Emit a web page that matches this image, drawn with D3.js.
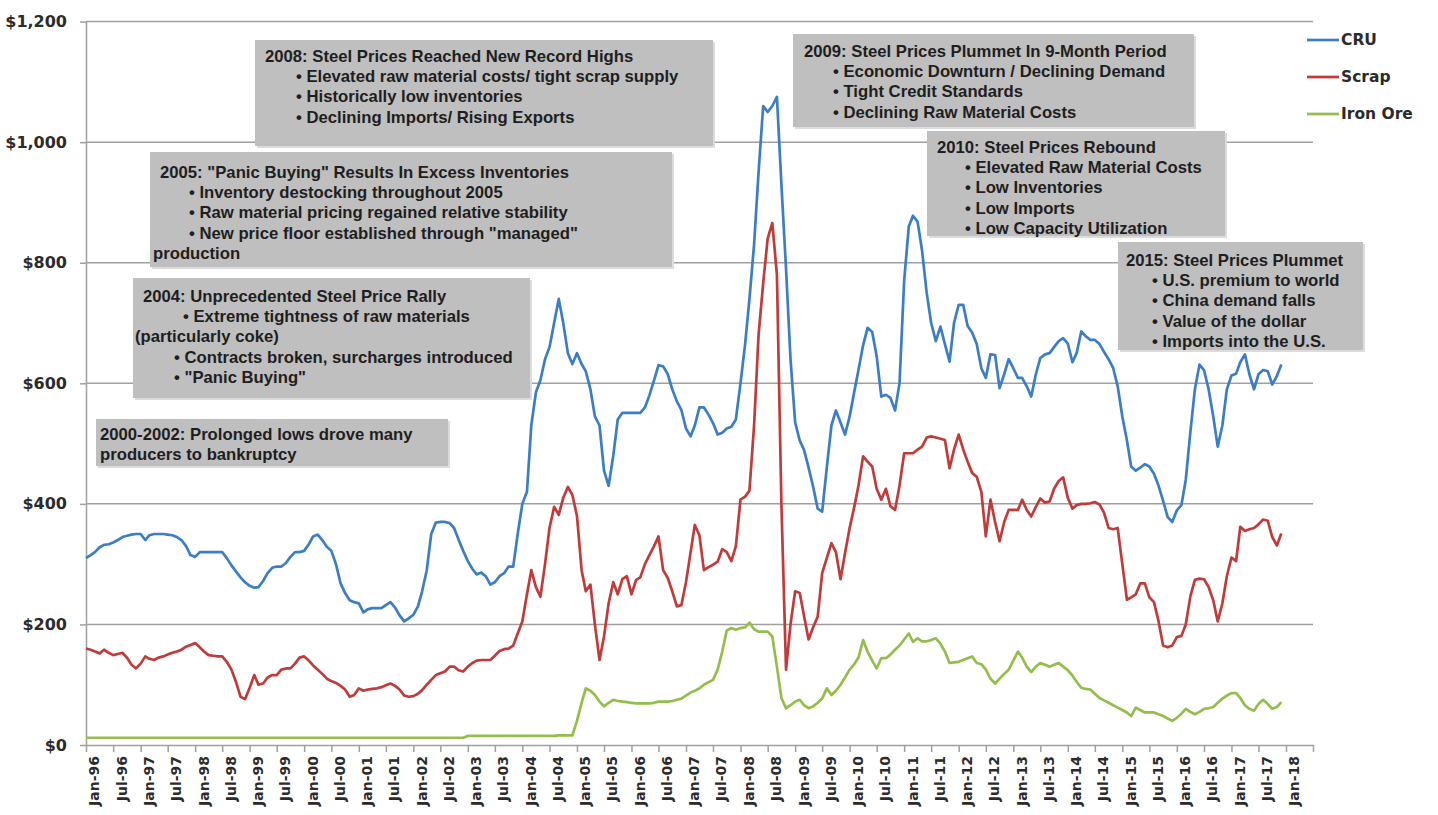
<!DOCTYPE html>
<html lang="en">
<head>
<meta charset="UTF-8">
<title>Steel prices</title>
<script src="https://cdn.jsdelivr.net/npm/d3@7/dist/d3.min.js"></script>
<style>
  body { margin: 0; background: #fff; }
  svg { display: block; }
</style>
</head>
<body>
<svg id="main_svg" width="1438" height="815"></svg>
<script>
// monthly prices, Jan-96 .. Dec-17
var startYear = 1996;
var cru = [
  310, 315, 320, 328, 332, 333, 336, 340, 345, 347, 349, 350,
  350, 340, 348, 350, 350, 350, 349, 348, 345, 340, 330, 315,
  312, 320, 320, 320, 320, 320, 320, 310, 298, 288, 278, 270,
  264, 261, 262, 272, 285, 294, 296, 296, 302, 312, 320, 320,
  322, 333, 346, 349, 340, 329, 322, 300, 268, 252, 240, 237,
  235, 220, 225, 227, 227, 227, 232, 237, 228, 215, 205, 210,
  216, 230, 255, 290, 350, 369, 370, 370, 368, 360, 340, 322,
  305, 292, 283, 286, 280, 266, 270, 280, 285, 296, 296, 350,
  400, 420, 530, 585, 605, 640, 660, 700, 740, 700, 650, 632,
  650, 632, 620, 590, 545, 530, 455, 430, 480, 540, 551, 551,
  551, 551, 551, 560, 580, 605, 630, 628, 615, 590, 570, 556,
  525, 512, 530, 560, 560, 548, 534, 515, 518, 525, 528, 540,
  600, 665, 740, 830, 950, 1060, 1050, 1060, 1075, 930, 790, 640,
  535, 505, 490, 460, 429, 392, 387, 460, 530, 555, 535, 515,
  545, 586, 622, 663, 692, 685, 645, 578, 581, 576, 555, 600,
  770, 860, 878, 868, 820, 750, 700, 670, 694, 665, 636, 700,
  730, 730, 695, 684, 665, 625, 609, 648, 647, 592, 615, 640,
  625, 609, 609, 595, 578, 615, 642, 648, 650, 660, 670, 675,
  666, 635, 650, 686, 678, 672, 672, 665, 652, 640, 625, 595,
  545, 505, 462, 455, 460, 466, 462, 450, 430, 405, 378, 370,
  389, 398, 440, 520, 590, 631, 622, 590, 545, 495, 530, 590,
  613, 616, 635, 648, 615, 590, 615, 622, 620, 598, 612, 631
];
var scrap = [
  160, 158, 155, 152, 158, 153, 149, 151, 153, 145, 133, 127,
  135, 147, 143, 141, 145, 147, 150, 153, 155, 158, 163, 166,
  169, 162, 155, 149, 148, 147, 147, 138, 125, 105, 80, 76,
  95, 116, 100, 102, 112, 116, 116, 125, 127, 127, 135, 145,
  147, 140, 132, 125, 118, 110, 106, 103, 98, 92, 80, 83,
  94, 90, 92, 93, 94, 96, 99, 102, 98, 92, 82, 80,
  81, 85, 91, 100, 108, 116, 119, 122, 130, 130, 124, 122,
  130, 136, 140, 141, 141, 141, 148, 156, 159, 160, 165, 185,
  205, 250, 290, 262, 246, 300, 360, 395, 382, 410, 428, 415,
  380, 290, 255, 266, 200, 141, 180, 235, 270, 250, 275, 280,
  250, 274, 278, 300, 315, 330, 346, 290, 277, 255, 230, 232,
  270, 320, 365, 348, 290, 295, 299, 304, 325, 320, 305, 330,
  407, 412, 422, 530, 680, 766, 840, 866, 780, 400, 125, 200,
  255, 252, 215, 175, 195, 213, 285, 310, 335, 320, 275, 318,
  360, 395, 430, 479, 470, 462, 425, 407, 425, 396, 390, 430,
  484, 484, 484, 490, 495, 510, 512, 510, 508, 506, 459, 490,
  515, 490, 470, 451, 445, 420, 346, 407, 370, 338, 370, 390,
  390, 390, 407, 390, 379, 395, 409, 402, 404, 425, 438, 444,
  410, 392, 398, 400, 400, 401, 403, 399, 385, 360, 358, 360,
  300, 241, 245, 250, 268, 268, 245, 237, 205, 165, 162, 165,
  179, 181, 200, 247, 274, 276, 275, 262, 240, 205, 235, 280,
  311, 305, 362, 355, 358, 360, 366, 374, 372, 345, 331, 351
];
var ironOre = [
  12, 12, 12, 12, 12, 12, 12, 12, 12, 12, 12, 12,
  12, 12, 12, 12, 12, 12, 12, 12, 12, 12, 12, 12,
  12, 12, 12, 12, 12, 12, 12, 12, 12, 12, 12, 12,
  12, 12, 12, 12, 12, 12, 12, 12, 12, 12, 12, 12,
  12, 12, 12, 12, 12, 12, 12, 12, 12, 12, 12, 12,
  12, 12, 12, 12, 12, 12, 12, 12, 12, 12, 12, 12,
  12, 12, 12, 12, 12, 12, 12, 12, 12, 12, 12, 12,
  15, 15, 15, 15, 15, 15, 15, 15, 15, 15, 15, 15,
  15, 15, 15, 15, 15, 15, 15, 15, 16, 16, 16, 16,
  40, 70, 94, 90, 83, 72, 64, 70, 75, 73, 72, 71,
  70, 69, 69, 69, 69, 70, 72, 72, 72, 73, 75, 77,
  82, 87, 90, 94, 100, 104, 108, 125, 155, 190, 194, 191,
  194, 195, 203, 192, 188, 188, 188, 180, 130, 78, 61, 66,
  72, 75, 66, 61, 64, 70, 77, 94, 83, 90, 100, 112,
  125, 134, 145, 174, 155, 140, 127, 144, 144, 150, 158, 165,
  175, 185, 171, 177, 172, 172, 174, 177, 168, 155, 136, 137,
  138, 141, 144, 147, 136, 134, 125, 110, 102, 110, 118, 125,
  140, 155, 145, 130, 121, 130, 136, 133, 130, 133, 136, 130,
  124, 115, 105, 95, 93, 92, 85, 78, 74, 70, 66, 62,
  58, 54, 48, 62, 58, 54, 54, 54, 51, 48, 44, 40,
  45, 52, 60, 55, 51, 55, 60, 61, 63, 70, 77, 82,
  86, 86, 78, 66, 60, 57, 68, 75, 68, 60, 63, 71
];
var yTicks = [0, 200, 400, 600, 800, 1000, 1200];
var seriesNames = ["CRU", "Scrap", "Iron Ore"];
var seriesColors = ["#3c7dc8", "#c23b3b", "#94bd4c"];

// text boxes on the chart
var notes = [
  { box: [255, 40, 458, 106], top: 62, lines: [
    [265, "2008: Steel Prices Reached New Record Highs"],
    [296, "\u2022 Elevated raw material costs/ tight scrap supply"],
    [296, "\u2022 Historically low inventories"],
    [296, "\u2022 Declining Imports/ Rising Exports"]] },
  { box: [150, 152, 522, 115], top: 178, lines: [
    [160, "2005: \"Panic Buying\" Results In Excess Inventories"],
    [189, "\u2022 Inventory destocking throughout 2005"],
    [189, "\u2022 Raw material pricing regained relative stability"],
    [189, "\u2022 New price floor established through \"managed\""],
    [153, "production"]] },
  { box: [133, 278, 397, 120], top: 302, lines: [
    [143, "2004: Unprecedented Steel Price Rally"],
    [183, "\u2022 Extreme tightness of raw materials"],
    [135, "(particularly coke)"],
    [174, "\u2022 Contracts broken, surcharges introduced"],
    [174, "\u2022 \"Panic Buying\""]] },
  { box: [96, 419, 352, 47], top: 440, lines: [
    [100, "2000-2002: Prolonged lows drove many"],
    [100, "producers to bankruptcy"]] },
  { box: [793, 34, 401, 93], top: 57, lines: [
    [804, "2009: Steel Prices Plummet In 9-Month Period"],
    [833, "\u2022 Economic Downturn / Declining Demand"],
    [833, "\u2022 Tight Credit Standards"],
    [833, "\u2022 Declining Raw Material Costs"]] },
  { box: [927, 131, 298, 105], top: 153, lines: [
    [937, "2010: Steel Prices Rebound"],
    [965, "\u2022 Elevated Raw Material Costs"],
    [965, "\u2022 Low Inventories"],
    [965, "\u2022 Low Imports"],
    [965, "\u2022 Low Capacity Utilization"]] },
  { box: [1118, 242, 245, 108], top: 266, lines: [
    [1126, "2015: Steel Prices Plummet"],
    [1152, "\u2022 U.S. premium to world"],
    [1152, "\u2022 China demand falls"],
    [1152, "\u2022 Value of the dollar"],
    [1152, "\u2022 Imports into the U.S."]] }
];

var svg = d3.select("#main_svg");
svg.append("rect").attr("width", 1438).attr("height", 815).attr("fill", "#fff");

var x = d3.scaleTime()
  .domain([new Date(startYear, 0, 1), new Date(2018, 6, 1)])
  .range([86, 1313]);
var y = d3.scaleLinear().domain([0, 1200]).range([745, 21.6]);

// gridlines
svg.append("g").selectAll("line")
  .data(yTicks.slice(1))
  .enter().append("line")
  .attr("x1", 86).attr("x2", 1313)
  .attr("y1", function (d) { return y(d); })
  .attr("y2", function (d) { return y(d); })
  .attr("stroke", "#a0a0a0")
  .attr("stroke-width", 1.5);

// y axis
var yAxis = svg.append("g")
  .attr("transform", "translate(86,0)")
  .call(d3.axisLeft(y).tickValues(yTicks).tickSize(6).tickSizeOuter(0).tickPadding(13)
    .tickFormat(function (d) { return "$" + d3.format(",")(d); }));
yAxis.select(".domain").attr("stroke", "#a0a0a0").attr("stroke-width", 1.5);
yAxis.selectAll(".tick line").attr("stroke", "#a0a0a0").attr("stroke-width", 1.5);
yAxis.selectAll("text")
  .attr("font-family", "DejaVu Sans")
  .attr("font-weight", "bold")
  .attr("font-size", 16)
  .attr("fill", "#2b2b2b");

// x axis
var lastTick = new Date(2018, 6, 1);
var xAxis = svg.append("g")
  .attr("transform", "translate(0,745)")
  .call(d3.axisBottom(x).ticks(d3.timeMonth.every(6)).tickSize(7).tickSizeOuter(0)
    .tickFormat(function (d) { return +d === +lastTick ? "" : d3.timeFormat("%b-%y")(d); }));
xAxis.select(".domain").attr("stroke", "#a0a0a0").attr("stroke-width", 1.5);
xAxis.selectAll(".tick line").attr("stroke", "#a0a0a0").attr("stroke-width", 1.5);
xAxis.selectAll("text")
  .attr("font-family", "DejaVu Sans")
  .attr("font-weight", "bold")
  .attr("font-size", 14)
  .attr("fill", "#2b2b2b")
  .attr("text-anchor", "end")
  .attr("transform", "rotate(-90)")
  .attr("x", -11)
  .attr("y", 8)
  .attr("dy", "0.35em");

// notes
var noteG = svg.append("g").selectAll("g")
  .data(notes)
  .enter().append("g");
noteG.append("rect")
  .attr("x", function (d) { return d.box[0] + 2; })
  .attr("y", function (d) { return d.box[1] + 2; })
  .attr("width", function (d) { return d.box[2]; })
  .attr("height", function (d) { return d.box[3]; })
  .attr("fill", "#dcdcdc");
noteG.append("rect")
  .attr("x", function (d) { return d.box[0]; })
  .attr("y", function (d) { return d.box[1]; })
  .attr("width", function (d) { return d.box[2]; })
  .attr("height", function (d) { return d.box[3]; })
  .attr("fill", "#bfbfbf");
noteG.each(function (d) {
  d3.select(this).selectAll("text")
    .data(d.lines)
    .enter().append("text")
    .attr("x", function (l) { return l[0]; })
    .attr("y", function (l, i) { return d.top + i * 20.2; })
    .attr("font-family", "Liberation Sans, Arial, sans-serif")
    .attr("font-weight", "bold")
    .attr("font-size", 16.7)
    .attr("fill", "#1e1e1e")
    .text(function (l) { return l[1]; });
});

// lines
var line = d3.line()
  .x(function (d, i) { return x(new Date(startYear, i, 1)); })
  .y(function (d) { return y(d); });
var series = [cru, scrap, ironOre];
svg.append("g").selectAll("path")
  .data(series)
  .enter().append("path")
  .attr("d", line)
  .attr("fill", "none")
  .attr("stroke", function (d, i) { return seriesColors[i]; })
  .attr("stroke-width", 2.7)
  .attr("stroke-linejoin", "round");

// legend
var leg = svg.append("g").selectAll("g")
  .data(seriesNames)
  .enter().append("g")
  .attr("transform", function (d, i) { return "translate(1307," + (40 + i * 37) + ")"; });
leg.append("line")
  .attr("x1", 0).attr("x2", 32)
  .attr("stroke", function (d, i) { return seriesColors[i]; })
  .attr("stroke-width", 2.7);
leg.append("text")
  .attr("x", 34).attr("dy", "0.35em")
  .attr("font-family", "DejaVu Sans")
  .attr("font-weight", "bold")
  .attr("font-size", 15.5)
  .attr("fill", "#2b2b2b")
  .text(function (d) { return d; });
</script>
</body>
</html>
